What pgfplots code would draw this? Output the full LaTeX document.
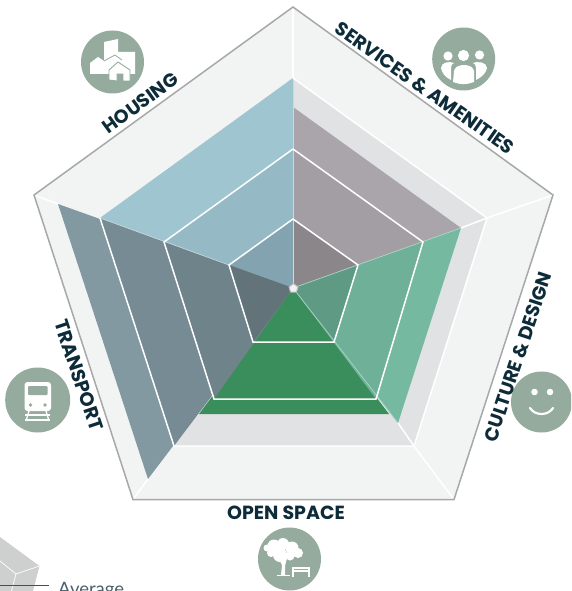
\documentclass[border=0pt]{standalone}
\usepackage{pgfplots}
\usepackage{fontspec}
\pgfplotsset{compat=1.18}
\setmainfont{Poppins}
\newfontfamily\avgfont{Lato}
\definecolor{frameg}{HTML}{A6A8A9}
\definecolor{paleg}{HTML}{F2F4F4}
\definecolor{midg}{HTML}{E1E2E4}
\definecolor{ink}{HTML}{0D2B38}
\definecolor{iconc}{HTML}{94AB9E}
\definecolor{hou}{HTML}{9FC5D0}
\definecolor{houm}{HTML}{95B9C5}
\definecolor{houi}{HTML}{82A3AF}
\definecolor{ser}{HTML}{AAA5AA}
\definecolor{serm}{HTML}{A39EA3}
\definecolor{seri}{HTML}{8A868A}
\definecolor{cul}{HTML}{75B9A0}
\definecolor{culm}{HTML}{6FB198}
\definecolor{culi}{HTML}{5E9A84}
\definecolor{ope}{HTML}{3A8E5C}
\definecolor{tra}{HTML}{8299A2}
\definecolor{tram}{HTML}{778B94}
\definecolor{trai}{HTML}{6F838A}
\definecolor{traj}{HTML}{62737A}
\begin{document}
\begin{tikzpicture}[x=1pt,y=1pt]
\path[use as bounding box,clip] (0,0) rectangle (571,591);
\begin{axis}[
    at={(0,0)}, anchor=south west,
    hide axis, scale only axis,
    width=571pt, height=591pt,
    xmin=0, xmax=571, ymin=0, ymax=591,
    y dir=reverse, clip=false,
    every axis plot/.append style={draw=none},
]
% background pentagons
\addplot[fill=paleg] coordinates {(293,7) (553,195) (454,499.5) (133,499.5) (34,195)} -- cycle;
\addplot[fill=midg] coordinates {(293,78) (487,218) (414,446) (174,446) (100,218)} -- cycle;
% data sectors, outer ring values
\addplot[fill=hou] coordinates {(293,288) (100,218) (293,78)} -- cycle;
\addplot[fill=ser] coordinates {(293,288) (293,107) (461,228)} -- cycle;
\addplot[fill=cul] coordinates {(293,288) (461,228) (398,423)} -- cycle;
\addplot[fill=tra] coordinates {(293,288) (148,479) (58,204)} -- cycle;
\addplot[fill=ope] coordinates {(293,288) (389,414) (199,414)} -- cycle;
% ring shading
\addplot[fill=houm] coordinates {(293,288) (164,242) (293,149)} -- cycle;
\addplot[fill=serm] coordinates {(293,288) (293,149) (423,242)} -- cycle;
\addplot[fill=culm] coordinates {(293,288) (423,242) (376,399)} -- cycle;
\addplot[fill=tram] coordinates {(293,288) (174,446) (100,218)} -- cycle;
\addplot[fill=trai] coordinates {(293,288) (214,399) (164,242)} -- cycle;
\addplot[fill=houi] coordinates {(293,288) (229,265) (293,219)} -- cycle;
\addplot[fill=seri] coordinates {(293,288) (293,219) (358,265)} -- cycle;
\addplot[fill=culi] coordinates {(293,288) (358,265) (334,342)} -- cycle;
\addplot[fill=traj] coordinates {(293,288) (253,342) (229,265)} -- cycle;
% light seams between sectors
\addplot[draw=hou!60!white,line width=0.7pt] coordinates {(229,265) (100,218)};
\addplot[draw=hou!60!white,line width=0.7pt] coordinates {(293,288) (293,78)};
\addplot[draw=cul!60!white,line width=0.7pt] coordinates {(293,288) (461,228)};
\addplot[draw=cul!60!white,line width=0.7pt] coordinates {(293,288) (398,423)};
% grid
\addplot[draw=white,line width=1.5pt] coordinates {(293,7) (293,78)};
\addplot[draw=white,line width=1.5pt] coordinates {(553,195) (487,218) (461,228)};
\addplot[draw=white,line width=1.5pt] coordinates {(454,499.5) (414,446) (398,423)};
\addplot[draw=white,line width=1.5pt] coordinates {(133,499.5) (148,479)};
\addplot[draw=white,line width=1.5pt] coordinates {(34,195) (58,204)};
\addplot[draw=white,line width=1.5pt] coordinates {(293,78) (487,218) (414,446) (174,446)};
\addplot[draw=white,line width=1.5pt] coordinates {(174,446) (100,218)};
\addplot[draw=white,line width=1.5pt] coordinates {(293,149) (423,242) (376,399) (214,399) (164,242) (293,149)};
\addplot[draw=white,line width=1.5pt] coordinates {(293,219) (358,265) (334,342) (253,342) (229,265) (293,219)};
% hub
\addplot[draw=frameg!80!white,fill=paleg,line width=1pt] coordinates {(293.5,283.5) (298,287) (296.5,292) (290.5,292) (289,287)} -- cycle;
% frame
\addplot[draw=frameg,line width=1.5pt] coordinates {(293,7) (553,195) (454,499.5) (133,499.5) (34,195)} -- cycle;

% icons
\fill[iconc] (112.5,62) circle[radius=31.5];
\fill[iconc] (463.7,59) circle[radius=31.5];
\fill[iconc] (541.5,402) circle[radius=30.5];
\fill[iconc] (37.7,400) circle[radius=32.5];
\fill[iconc] (289.5,559) circle[radius=31.5];
% housing
\fill[white] (104,42) -- (118,39) -- (118,52) -- (135,52) -- (135,74) -- (90,74) -- (90,63) -- (98,57) -- (104,61) -- cycle;
\fill[white,draw=iconc,line width=0.9pt] (109,80) -- (109,70) -- (118,62) -- (130,70) -- (130,81) -- (123,81) -- (123,74) -- (117,74) -- (117,81) -- cycle;
\draw[iconc,line width=0.8pt] (104,61) -- (115,55) -- (122,60);
% people
\fill[white] (448,56) circle[radius=4.6] (463.5,55.5) circle[radius=5.6] (479.5,55) circle[radius=4.6];
\fill[white] (453,82) .. controls (462,85) and (465,85) .. (474,82) -- (474,71) .. controls (473,63) and (455,63) .. (454,71) -- cycle;
\fill[white] (451,80) -- (451,68) .. controls (451,65) and (452,64) .. (454,63) .. controls (450,61) and (441,62) .. (441,68) .. controls (442,73) and (445,77) .. (451,80) -- cycle;
\fill[white] (476,80) -- (476,68) .. controls (476,65) and (475,64) .. (473,63) .. controls (477,61) and (487,62) .. (487,68) .. controls (486,73) and (482,77) .. (476,80) -- cycle;
% train
\fill[white,rounded corners=3pt] (24.5,382) rectangle (51,411);
\fill[iconc,rounded corners=1pt] (28,386) rectangle (47.5,395);
\draw[white,line width=0.8pt] (31,383) -- (44,383);
\fill[iconc] (30.5,405) circle[radius=1.8] (45,405) circle[radius=1.8];
\draw[white,line width=1.3pt] (29,411) -- (26,421) (46,411) -- (49,421);
\draw[white,line width=1.3pt] (25,415) -- (50,415) (25,420) -- (50,420);
% park
\fill[white] (267,548) circle[radius=3.5] (274,546) circle[radius=6.5] (283,544) circle[radius=6] (292,548) circle[radius=6.5] (298,553) circle[radius=5] (290,556) circle[radius=4.5] (280,555) circle[radius=7] (271,553) circle[radius=4];
\fill[white] (281,575) -- (282,565) -- (277,556) -- (283,558) -- (284,556) -- (287,558) -- (285,566) -- (285,575) -- cycle;
\draw[white,line width=1.1pt] (277,575.5) -- (290,575.5);
\draw[white,line width=1.2pt] (292,568) -- (310,568) (292,571) -- (310,571);
\draw[white,line width=1.1pt] (293,568) -- (293,577) (309,568) -- (309,577);
% smile
\fill[white] (534.5,392) circle[radius=3.3] (550,392) circle[radius=3.3];
\draw[white,line width=2.2pt,line cap=round] (530,408) .. controls (535,416) and (548,416) .. (553,408);

% labels
\node[rotate=36,text=ink,font=\fontsize{19}{19}\selectfont\bfseries] at (140.5,103) {HOUSING};
\node[rotate=-35.2,text=ink,font=\fontsize{19}{19}\selectfont\bfseries] at (425,88) {SERVICES \& AMENITIES};
\node[rotate=71.5,text=ink,font=\fontsize{19}{19}\selectfont\bfseries] at (518,357) {CULTURE \& DESIGN};
\node[rotate=-71.5,text=ink,font=\fontsize{19.3}{19}\selectfont\bfseries] at (79,375) {TRANSPORT};
\node[text=ink,font=\fontsize{19}{19}\selectfont\bfseries] at (286,513) {OPEN SPACE};

% small key, cut by the page edge
\addplot[fill=black!15!paleg] coordinates {(-10,530) (0,537) (39.5,566) (28,610) (-10,610)} -- cycle;
\addplot[draw=white,line width=0.7pt] coordinates {(39.5,566) (16,574) (0,561)};
\addplot[draw=white,line width=0.7pt] coordinates {(16,574) (9,600)};
\addplot[draw=black!70,line width=1.1pt] coordinates {(0,585.7) (49,585.7)};
\node[anchor=base west,inner sep=0pt,text=ink!75,font=\avgfont\fontsize{18.5}{18}\selectfont] at (58,595) {Average};
\end{axis}
\end{tikzpicture}
\end{document}
